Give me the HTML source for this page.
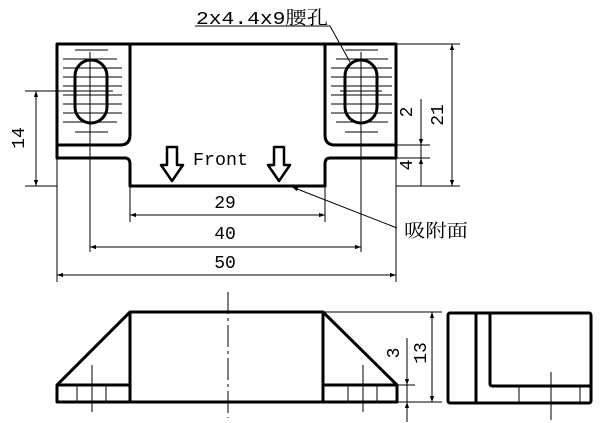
<!DOCTYPE html>
<html><head><meta charset="utf-8"><style>
html,body{margin:0;padding:0;background:#fff;}
svg{display:block;}
text{font-family:"Liberation Mono","Noto Serif CJK SC",monospace;fill:#000;}
</style></head><body>
<svg width="605" height="423" viewBox="0 0 605 423" xmlns="http://www.w3.org/2000/svg">
<defs>
<marker id="a" viewBox="0 0 10 10" refX="10" refY="5" markerWidth="10" markerHeight="6" orient="auto-start-reverse" markerUnits="userSpaceOnUse"><path d="M0,1.5 L10,5 L0,8.5 Z" fill="#000"/></marker>
</defs>
<g fill="none" stroke="#000" stroke-width="3" stroke-linejoin="round">
<path d="M57,44 H396 V158 H330 Q325,158 325,164 V186 H130 V164 Q130,158 125,158 H57 Z"/>
<path d="M130,44 V135 Q130,145 120,145 H57"/>
<path d="M325,44 V135 Q325,145 335,145 H396"/>
<rect x="75" y="60" width="32" height="63" rx="16"/>
<rect x="345" y="60" width="32" height="63" rx="16"/>
<path d="M167,147 H177 V165 H183 L172,181 L161,165 H167 Z" stroke-width="2.5"/>
<path d="M274,147 H284 V165 H290 L279,181 L268,165 H274 Z" stroke-width="2.5"/>
<path d="M57,385 L130,312 H323 L397,385 V402 H57 Z"/>
<path d="M130,312 V402 M323,312 V402 M57,385 H130 M323,385 H397"/>
<rect x="448" y="313" width="143" height="90" rx="2"/>
<path d="M476,313 V403 M490,313 V384 Q490,386 493,386 H591"/>
</g>
<g fill="none" stroke="#000" stroke-width="1">
<path d="M75,50 H108 M63,59 H117 M63,68 H122 M63,77 H122 M63,86 H122 M63,95 H122 M63,104 H122 M63,113 H122 M63,122 H117 M75,132 H108"/>
<path d="M345,50 H378 M336,59 H388 M331,68 H392 M331,77 H392 M331,86 H392 M331,95 H392 M331,104 H392 M331,113 H392 M336,122 H388 M345,132 H378"/>
<path d="M90,52 V252 M361,52 V252 M70,91 H113 M340,91 H382"/>
<path d="M25,91 H75 M25,186 H57"/>
<path d="M36,91 V186" marker-start="url(#a)" marker-end="url(#a)"/>
<path d="M396,44 H460 M396,186 H460 M396,145 H430 M396,158 H430"/>
<path d="M452,44 V186" marker-start="url(#a)" marker-end="url(#a)"/>
<path d="M421,99 V145" marker-end="url(#a)"/>
<path d="M421,145 V158"/>
<path d="M421,186 V158" marker-end="url(#a)"/>
<path d="M130,186 V222 M325,186 V222 M57,158 V282 M396,158 V282"/>
<path d="M130,215 H325" marker-start="url(#a)" marker-end="url(#a)"/>
<path d="M90,247 H361" marker-start="url(#a)" marker-end="url(#a)"/>
<path d="M57,275 H396" marker-start="url(#a)" marker-end="url(#a)"/>
<path d="M397,228 L292,187" marker-end="url(#a)"/>
<path d="M195,26 H330 L350,62"/>
<path d="M77,385 V402 M106,385 V402 M348,385 V402 M377,385 V402 M92,365 V412 M363,365 V412"/>
<path d="M228,292 V418" stroke-dasharray="22,4,3,4"/>
<path d="M323,312 H442 M397,402 H442 M397,385 H415"/>
<path d="M432,312 V402" marker-start="url(#a)" marker-end="url(#a)"/>
<path d="M407,338 V385" marker-end="url(#a)"/>
<path d="M407,385 V402"/>
<path d="M407,422 V402" marker-end="url(#a)"/>
<path d="M519,386 V403 M580,386 V403 M551,372 V420"/>
</g>
<g font-size="18">
<text x="196" y="24" textLength="132" lengthAdjust="spacingAndGlyphs">2x4.4x9腰孔</text>
<text x="193" y="165" textLength="55" lengthAdjust="spacingAndGlyphs">Front</text>
<text x="225" y="208" text-anchor="middle">29</text>
<text x="225" y="239" text-anchor="middle">40</text>
<text x="225" y="268" text-anchor="middle">50</text>
<text x="404" y="237" textLength="64" lengthAdjust="spacingAndGlyphs">吸附面</text>
<text transform="translate(24,138) rotate(-90)" text-anchor="middle">14</text>
<text transform="translate(443,115) rotate(-90)" text-anchor="middle">21</text>
<text transform="translate(412,112) rotate(-90)" text-anchor="middle">2</text>
<text transform="translate(412,165) rotate(-90)" text-anchor="middle">4</text>
<text transform="translate(399,353) rotate(-90)" text-anchor="middle">3</text>
<text transform="translate(426,353) rotate(-90)" text-anchor="middle">13</text>
</g>
</svg>
</body></html>
